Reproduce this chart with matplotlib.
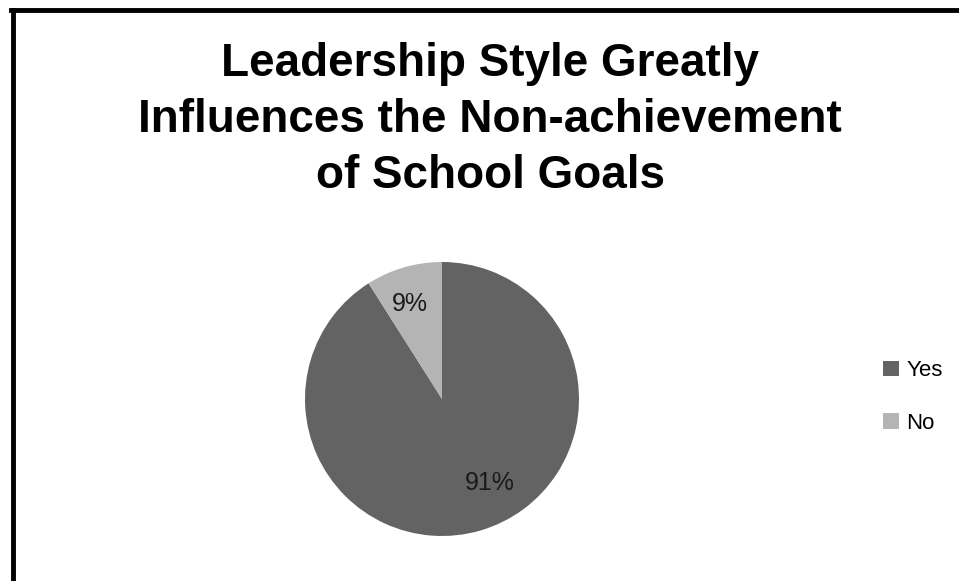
import matplotlib
matplotlib.use('Agg')
import matplotlib.pyplot as plt
from matplotlib.lines import Line2D
from matplotlib.patches import Patch

labels = ['Yes', 'No']
values = [91, 9]
colors = ['#636363', '#b4b4b4']
title = 'Leadership Style Greatly\nInfluences the Non-achievement\nof School Goals'

plt.rcParams['font.family'] = ['Liberation Sans', 'DejaVu Sans']

fig = plt.figure(figsize=(9.59, 5.81), dpi=100)

# pie area: center ~ (442, 399) px, radius ~137 px
W, H = 959, 581
cx, cy, r = 442, 399, 137
ax = fig.add_axes([(cx - r) / W, 1 - (cy + r) / H, 2 * r / W, 2 * r / H])
wedges, texts, autotexts = ax.pie(values, colors=colors, startangle=90, counterclock=False,
                                  autopct='%1.0f%%', pctdistance=0.72,
                                  textprops={'fontsize': 18, 'color': '#1a1a1a'})
# Excel puts the big slice label a bit off the bisector
x, y = autotexts[0].get_position()
autotexts[0].set_position((x + 0.15, y + 0.08))
x, y = autotexts[1].get_position()
autotexts[1].set_position((x - 0.03, y))
ax.set_xlim(-1, 1)
ax.set_ylim(-1, 1)
ax.set_aspect('equal')

fig.text(490 / W, 1 - 120 / H, title, ha='center', va='center', fontsize=33,
         fontweight='bold', linespacing=1.36, color='black')

handles = [Patch(facecolor=c, edgecolor='none') for c in colors]
fig.legend(handles, labels, loc='center left', bbox_to_anchor=(883 / W, 1 - 397 / H),
           frameon=False, fontsize=16, handlelength=0.7, handleheight=0.7,
           handletextpad=0.35, labelspacing=1.4, borderpad=0, borderaxespad=0)

# chart frame (cropped: only top and left visible)
fig.add_artist(Line2D([12.5 / W, 12.5 / W], [0, 1 - 9.5 / H], color='black', lw=3.5,
                      transform=fig.transFigure))
fig.add_artist(Line2D([11 / W, 1], [1 - 9.5 / H, 1 - 9.5 / H], color='black', lw=3.5,
                      transform=fig.transFigure))

fig.savefig('out.png', dpi=100)
